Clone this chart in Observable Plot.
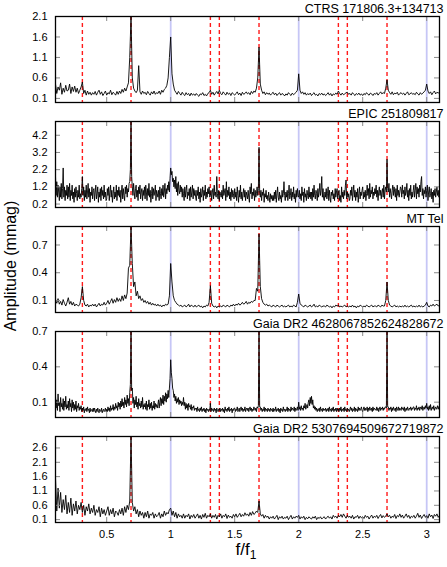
<!DOCTYPE html>
<html><head><meta charset="utf-8">
<script src="https://cdn.jsdelivr.net/npm/d3@7"></script>
<script src="https://cdn.jsdelivr.net/npm/@observablehq/plot@0.6"></script>
<style>
body{margin:0;background:#fff;font-family:"Liberation Sans",Arial,sans-serif;}
#wrap{position:relative;width:447px;height:567px;overflow:hidden;background:#fff}
#wrap svg{display:block}
#ylab{position:absolute;left:11px;top:266px;transform:translate(-50%,-50%) rotate(-90deg);font-size:16px;white-space:nowrap;color:#000}
#xlab{position:absolute;left:246px;top:551px;transform:translate(-50%,-50%);font-size:17px;white-space:nowrap;color:#000}
#xlab sub{font-size:12px}
</style></head><body>
<div id="wrap"><div id="ylab">Amplitude (mmag)</div><div id="xlab">f/f<sub>1</sub></div></div>
<script>
// frequency grids (f/f1) start at 0.10 and end at 3.10
const freqStart = 0.10;
const stepCoarse = 0.01;   // 10 values per 0.1
const stepFine = 0.005;    // 20 values per 0.1

const titles = ["CTRS 171806.3+134713", "EPIC 251809817", "MT Tel",
  "Gaia DR2 4628067852624828672", "Gaia DR2 5307694509672719872"];

// amplitudes in units of 0.01 mmag, one row per 0.1 in f/f1
const ampCTRS = [
 45,22,38,30,48,20,35,25,42,28, 30,45,22,38,27,40,25,35,22,30,
 38,50,22,30,18,28,20,25,18,24, 20,27,18,25,30,20,26,17,22,28,
 18,24,21,30,19,25,22,18,27,20, 28,22,32,25,35,28,38,48,110,230,
 60,35,28,24,30,90,26,20,28,22, 25,19,27,22,18,26,21,28,20,24,
 22,28,20,30,25,32,35,42,60,110, 160,70,45,30,25,20,27,22,18,25,
 20,17,24,19,22,16,23,18,21,17, 22,18,15,21,19,24,17,20,16,22,
 24,30,20,25,18,23,27,21,30,22, 19,26,22,18,25,20,23,17,24,21,
 18,22,26,19,23,17,25,20,22,26, 21,24,19,27,22,28,25,35,60,135,
 45,30,22,26,19,24,20,23,18,22, 25,19,23,17,21,24,18,22,20,16,
 21,18,24,20,17,23,19,22,25,30, 70,30,22,26,20,24,18,22,19,23,
 17,21,24,18,20,16,22,19,23,18, 21,17,20,24,18,22,16,21,19,23,
 20,28,22,18,23,19,21,24,25,20, 22,18,24,20,17,22,19,23,18,21,
 17,22,19,24,20,18,23,21,17,22, 20,24,18,22,26,21,24,22,35,55,
 30,24,20,26,19,23,21,25,18,22, 24,20,23,18,22,26,19,21,24,20,
 22,19,25,21,18,24,20,23,26,30, 45,28,22,26,19,24,28,21,25,23,
 26];

// fine grid (20 values per 0.1)
const ampEPIC = [
 180,70,150,60,130,90,40,120,60,140,50,110,230,60,120,40,100,70,130,50,
 120,60,140,40,100,70,130,50,90,30,110,60,120,80,40,100,60,130,50,80,
 60,110,180,70,120,40,100,60,130,50,90,140,60,110,30,90,70,120,50,100,
 110,40,90,130,50,80,120,30,90,60,110,40,120,70,100,50,130,60,90,40,
 50,110,70,120,40,90,130,60,100,30,80,120,50,90,60,130,40,100,70,120,
 60,100,30,90,130,50,110,70,40,120,80,130,60,110,90,140,150,220,520,180,
 120,70,140,90,50,110,130,60,100,40,120,80,130,50,90,110,40,100,70,120,
 50,130,90,40,110,70,140,60,100,30,80,120,50,110,70,90,130,40,100,80,
 60,100,40,120,80,50,110,70,130,60,90,140,50,110,80,130,100,150,90,170,
 230,190,210,150,170,120,160,110,180,90,140,70,150,100,80,130,90,120,60,110,
 80,40,120,60,100,130,50,90,70,110,40,120,60,90,130,50,110,70,100,60,
 40,100,70,120,50,90,30,110,60,80,120,40,100,70,130,50,90,60,110,80,
 120,60,70,100,40,90,110,50,130,70,90,60,180,80,50,100,40,90,70,60,
 100,50,130,70,90,110,40,150,60,100,70,120,50,90,40,110,60,100,80,50,
 110,60,90,40,120,70,30,100,60,130,50,90,40,80,110,60,100,40,90,70,
 50,100,60,30,120,80,140,50,90,70,110,40,100,60,80,120,70,110,350,90,
 60,100,40,90,70,110,30,80,60,100,50,70,40,90,60,30,80,50,70,40,
 70,40,90,50,100,30,80,120,60,40,90,50,70,30,100,60,80,150,70,40,
 90,60,100,40,80,130,50,70,110,40,90,60,120,50,80,30,100,60,110,70,
 60,100,50,80,40,120,70,90,30,110,60,80,40,100,70,50,120,60,90,50,
 90,40,110,60,130,70,50,100,80,40,110,60,90,140,70,100,180,60,110,50,
 40,90,60,110,50,80,120,40,100,60,30,90,70,100,50,80,40,110,60,90,
 110,50,80,100,40,70,30,120,60,90,50,100,70,130,160,50,90,60,80,40,
 50,100,70,120,40,90,130,60,100,40,90,60,110,30,80,120,50,90,70,100,
 120,50,90,60,100,40,80,130,70,110,50,140,60,100,80,120,50,90,70,110,
 80,130,60,100,40,90,120,70,100,50,90,110,60,130,50,100,120,90,280,110,
 90,140,60,110,80,50,100,130,70,120,90,60,110,40,130,70,100,60,90,120,
 110,60,130,80,100,50,120,70,90,140,60,100,40,110,70,130,50,90,60,100,
 130,60,100,140,50,120,80,110,60,130,90,150,180,70,110,50,100,80,120,60,
 100,130,40,90,120,60,80,110,50,90,30,100,70,110,60,90,120,70,100,60,
 80];

const ampMTTel = [
 10,7,12,6,9,5,11,7,4,8, 13,6,9,5,8,4,6,5,4,6,
 13,25,10,5,4,6,3,5,4,6, 4,6,3,5,7,4,6,5,8,5,
 7,10,6,9,12,7,11,8,13,9, 12,9,15,10,16,12,18,45,48,95,
 50,25,30,15,20,12,15,10,12,8, 10,7,9,6,8,5,7,5,6,4,
 6,4,5,3,5,4,6,5,6,15, 50,30,15,10,8,6,5,4,5,3,
 4,5,3,4,6,3,5,4,3,5, 3,4,5,3,4,2,4,3,5,4,
 8,26,7,4,3,4,2,4,3,4, 3,5,4,3,5,4,3,5,4,6,
 4,6,5,7,5,6,8,6,7,9, 6,8,7,9,8,10,10,23,20,82,
 25,12,8,6,5,6,4,5,4,3, 5,4,3,5,4,3,4,5,3,4,
 3,4,5,3,4,3,5,4,3,8, 17,7,5,4,3,5,4,3,4,5,
 3,4,6,3,4,3,5,4,3,4, 4,3,5,4,3,4,2,4,3,5,
 4,5,3,4,3,4,5,3,4,3, 4,3,5,3,4,2,4,3,5,4,
 3,4,3,5,4,3,4,5,3,4, 4,3,5,4,3,5,4,4,10,30,
 10,5,4,3,4,5,3,4,3,4, 3,4,3,5,3,4,3,4,5,3,
 4,3,4,3,5,3,4,3,4,5, 8,4,3,5,4,6,4,5,6,4,
 5];

// fine grid (20 values per 0.1)
const ampGaia4628 = [
 15,5,12,3,17,7,10,2,14,6,9,4,13,3,11,6,15,4,8,5,
 11,3,13,6,9,2,12,5,10,3,8,4,11,2,7,5,9,3,6,4,
 7,2,5,3,6,1,4,3,5,2,6,3,4,1,5,2,3,4,2,5,
 2,5,3,1,4,2,5,3,1,4,3,2,5,1,3,4,2,3,5,2,
 4,2,6,3,5,2,7,3,5,4,8,3,6,4,9,5,7,3,10,6,
 9,4,11,6,13,7,10,5,14,8,12,6,16,9,13,7,18,25,80,20,
 22,9,14,5,12,8,15,6,10,4,13,7,9,5,11,6,14,4,8,6,
 9,4,11,3,8,6,12,4,9,5,10,3,7,5,11,4,9,6,8,5,
 8,12,5,10,14,7,13,9,16,8,15,11,18,10,17,13,20,14,22,30,
 46,35,30,22,20,14,17,11,15,9,13,10,14,8,12,9,11,7,10,8,
 14,7,10,4,9,5,8,3,9,6,7,4,8,3,6,5,7,3,5,4,
 5,2,6,3,4,2,5,3,6,2,4,3,5,2,4,1,5,3,4,2,
 4,3,9,2,5,3,4,2,5,3,4,1,5,3,2,4,3,5,2,4,
 3,5,2,4,1,6,3,4,2,5,3,6,2,4,3,5,1,4,3,5,
 5,2,4,3,6,2,3,5,2,4,6,3,5,2,4,3,6,2,4,5,
 3,5,2,4,6,3,5,2,4,3,6,4,3,5,2,6,5,7,80,6,
 6,3,5,2,4,3,6,2,5,3,4,2,5,3,4,2,5,3,4,2,
 5,2,4,3,6,2,4,3,5,2,4,1,5,3,4,2,6,3,4,2,
 4,3,6,2,5,3,4,2,6,3,5,4,3,6,2,5,3,4,6,3,
 10,4,6,3,7,4,5,3,7,5,9,4,6,8,5,10,12,7,14,9,
 15,8,12,5,7,4,6,3,5,2,4,3,5,2,6,3,4,2,5,3,
 4,3,5,2,4,3,5,2,6,3,4,2,5,3,6,2,4,3,5,2,
 5,3,4,2,5,3,6,2,4,3,5,2,6,3,4,2,5,3,4,2,
 4,6,3,5,2,4,3,6,2,5,3,4,2,6,3,5,3,4,6,3,
 2,4,6,3,5,3,4,6,2,5,3,6,4,3,5,2,6,3,5,4,
 4,3,6,3,5,2,4,6,3,5,4,6,3,5,4,6,6,5,80,6,
 6,3,5,4,6,2,5,3,6,4,3,5,2,6,4,3,6,3,5,4,
 3,6,4,5,3,6,2,4,5,3,6,4,3,5,4,6,3,5,4,6,
 6,3,5,4,7,3,5,4,6,3,5,6,4,7,3,5,6,4,7,5,
 9,4,6,3,7,4,8,3,5,6,4,7,3,5,6,4,5,7,4,6,
 7];

const ampGaia5307 = [
 155,40,120,50,105,35,80,45,95,30, 70,35,85,25,65,40,75,30,60,45,
 70,35,60,25,55,40,65,30,50,35, 60,25,45,35,55,20,50,30,45,25,
 40,55,25,45,30,50,20,40,35,25, 45,30,50,25,55,35,60,45,75,310,
 70,40,55,30,45,20,40,25,35,15, 35,20,40,15,30,25,35,15,30,20,
 25,35,15,30,20,40,25,35,30,45, 50,25,40,20,35,15,30,20,25,15,
 30,15,25,20,30,12,25,18,28,15, 22,30,15,25,12,28,18,32,15,25,
 20,30,15,25,18,28,12,25,20,30, 15,25,20,30,14,26,18,22,15,28,
 20,30,18,25,32,20,28,22,34,25, 30,22,35,25,38,28,32,40,35,75,
 30,22,28,15,25,18,22,12,20,15, 22,12,18,25,10,20,15,22,12,18,
 15,22,10,18,25,12,20,15,22,18, 25,12,20,15,22,10,18,13,20,15,
 12,20,15,22,10,18,14,20,12,17, 20,12,18,22,15,20,12,25,18,22,
 15,25,20,28,18,30,22,15,25,18, 22,15,25,12,20,18,25,14,22,16,
 20,14,25,18,22,12,20,26,15,22, 18,25,14,22,28,16,24,18,22,30,
 20,25,15,22,18,28,14,24,20,30, 18,26,15,22,30,18,25,14,22,18,
 25,15,22,32,18,26,14,22,28,18, 24,15,30,20,26,14,28,22,30,18,
 25];

// reference lines
const redLines = [0.31, 0.69, 1.31, 1.38, 1.69, 2.31, 2.38, 2.69];
const blueLines = [1, 2, 3];
const xTicks = [0.5, 1, 1.5, 2, 2.5, 3];
const yTicksCTRS = [0.1, 0.6, 1.1, 1.6, 2.1];
const yTicksEPIC = [0.2, 1.2, 2.2, 3.2, 4.2];
const yTicksMTTel = [0.1, 0.4, 0.7];
const yTicksGaia4628 = [0.1, 0.4, 0.7];
const yTicksGaia5307 = [0.1, 0.6, 1.1, 1.6, 2.1, 2.6];

const panels = [
  {amp: ampCTRS, step: stepCoarse, ticks: yTicksCTRS, domain: [0, 2.1]},
  {amp: ampEPIC, step: stepFine, ticks: yTicksEPIC, domain: [0, 5]},
  {amp: ampMTTel, step: stepCoarse, ticks: yTicksMTTel, domain: [-0.03, 0.9]},
  {amp: ampGaia4628, step: stepFine, ticks: yTicksGaia4628, domain: [-0.03, 0.7]},
  {amp: ampGaia5307, step: stepCoarse, ticks: yTicksGaia5307, domain: [0, 3.0]}
];

const W = 447, ML = 55, MR = 8, MT = 16;
const wrap = document.getElementById("wrap");

panels.forEach((p, i) => {
  const last = i === panels.length - 1;
  const MB = last ? 45 : 3;
  const H = last ? 147 : 105;
  const innerW = W - ML - MR, innerH = H - MT - MB;
  const data = p.amp.map((v, k) => ({f: freqStart + k * p.step, a: v / 100}));
  const marks = [
    Plot.ruleX(blueLines, {stroke: "#c6c6f6", strokeWidth: 1.8}),
    Plot.ruleX(redLines, {stroke: "#ff1a1a", strokeWidth: 1.4, strokeDasharray: "4,3"}),
    Plot.line(data, {x: "f", y: "a", stroke: "#000", strokeWidth: 0.9, clip: true}),
    Plot.ruleY(p.ticks, {insetRight: innerW - 5, stroke: "#8a8a8a"}),
    Plot.ruleY(p.ticks, {insetLeft: innerW - 5, stroke: "#8a8a8a"}),
    Plot.ruleX(xTicks, {insetBottom: innerH - 5, stroke: "#8a8a8a"}),
    Plot.ruleX(xTicks, {insetTop: innerH - 5, stroke: "#8a8a8a"}),
    Plot.frame({stroke: "#000", strokeWidth: 1.3}),
    Plot.axisY(p.ticks, {tickSize: 0, tickPadding: 8, tickFormat: d => d.toFixed(1), label: null, fontSize: 11}),
    Plot.text([titles[i]], {frameAnchor: "top-right", textAnchor: "end", lineAnchor: "middle", dx: 4, dy: -8, fontSize: 12.5, fill: "#000"})
  ];
  if (last) marks.push(Plot.axisX(xTicks, {tickSize: 0, tickPadding: 8, tickFormat: d => String(d), label: null, fontSize: 11}));
  const chart = Plot.plot({
    width: W, height: H,
    marginLeft: ML, marginRight: MR, marginTop: MT, marginBottom: MB,
    x: last ? {domain: [0.1, 3.1]} : {domain: [0.1, 3.1], axis: null},
    y: {domain: p.domain, clamp: true},
    style: {fontFamily: "'Liberation Sans', Arial, sans-serif", fontSize: "11px", color: "#000", background: "transparent"},
    marks
  });
  wrap.appendChild(chart);
});
</script>
</body></html>
